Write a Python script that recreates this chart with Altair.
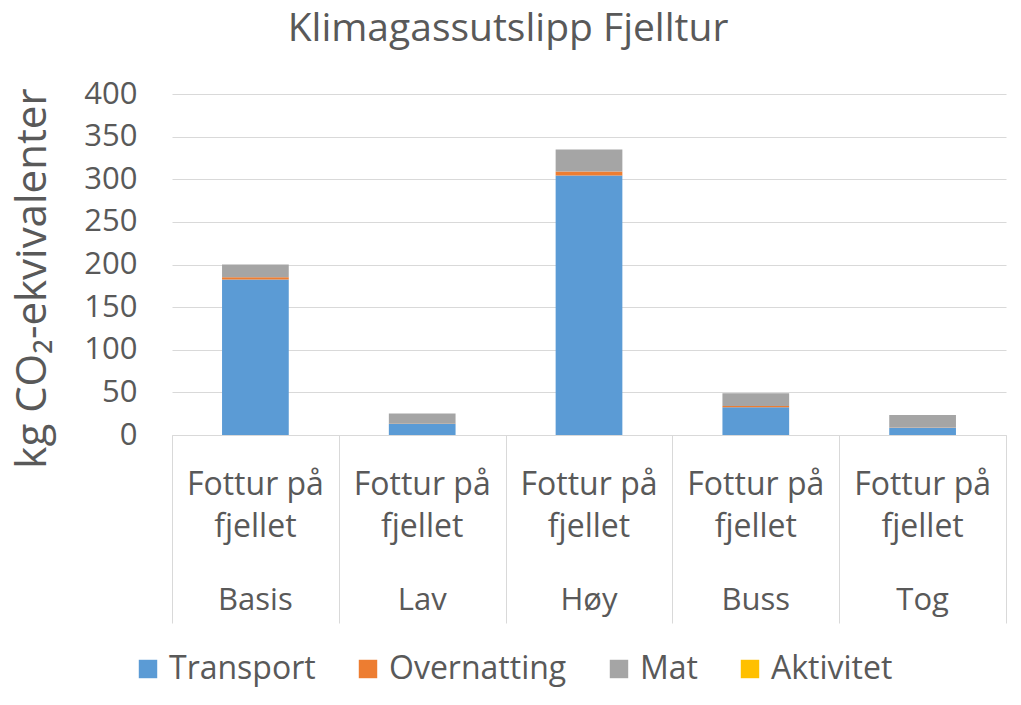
import altair as alt
import pandas as pd

groups = ["Basis", "Lav", "Høy", "Buss", "Tog"]
activity = "Fottur på fjellet"
categories = ["Transport", "Overnatting", "Mat", "Aktivitet"]
colors = ["#5B9BD5", "#ED7D31", "#A5A5A5", "#FFC000"]

transport = [182.5, 13.0, 304.5, 32.5, 8.5]
overnatting = [2.5, 0.3, 4.5, 1.5, 0.3]
mat = [15.0, 12.0, 26.0, 15.0, 14.7]
aktivitet = [0.0, 0.0, 0.0, 0.0, 0.0]

series = [transport, overnatting, mat, aktivitet]
rows = []
for ci, (cat, vals) in enumerate(zip(categories, series)):
    for g, v in zip(groups, vals):
        rows.append({"group": g, "category": cat, "value": v, "order": ci})
df = pd.DataFrame(rows)
labels_df = pd.DataFrame({"group": groups, "activity": [activity] * len(groups)})

W, H = 834, 341
TXT = "#595959"
GRID = "#D9D9D9"
FONT = "Open Sans"

x_enc = alt.X(
    "group:N",
    sort=groups,
    scale=alt.Scale(paddingInner=0, paddingOuter=0),
    axis=alt.Axis(
        title=None, labels=False, tickBand="extent", tickSize=188,
        tickColor=GRID, domainColor=GRID, tickWidth=1, domainWidth=1,
    ),
)

bars = alt.Chart(df).mark_bar(width=alt.RelativeBandSize(0.4)).encode(
    x=x_enc,
    y=alt.Y(
        "sum(value):Q",
        scale=alt.Scale(domain=[0, 400], nice=False),
        axis=alt.Axis(
            title="kg CO₂-ekvivalenter", values=list(range(0, 401, 50)),
            grid=True, gridColor=GRID, domain=False, ticks=False,
            labelPadding=35, labelFontSize=31, labelColor=TXT,
            titleFontSize=42, titleColor=TXT, titleFontWeight="normal",
            titlePadding=29, titleY=184,
        ),
    ),
    color=alt.Color(
        "category:N",
        sort=categories,
        scale=alt.Scale(domain=categories, range=colors),
        legend=alt.Legend(
            title=None, orient="none", direction="horizontal",
            legendX=-40, legendY=559, symbolType="square", symbolSize=340,
            symbolStrokeWidth=0, labelFontSize=32, labelColor=TXT,
            columnPadding=36, labelOffset=5, labelLimit=400,
        ),
    ),
    order=alt.Order("order:Q", sort="ascending"),
)

act_text = alt.Chart(labels_df).mark_text(
    fontSize=32, color=TXT, lineBreak="\n", lineHeight=42, baseline="middle", font=FONT
).encode(
    x=alt.X("group:N", sort=groups),
    y=alt.value(H + 50),
    text=alt.Text("wrapped:N"),
).transform_calculate(wrapped="'Fottur på\\nfjellet'")

grp_text = alt.Chart(labels_df).mark_text(
    fontSize=31, color=TXT, baseline="middle", font=FONT
).encode(
    x=alt.X("group:N", sort=groups),
    y=alt.value(H + 166),
    text="group:N",
)

chart = alt.layer(bars, act_text, grp_text).properties(
    width=W, height=H,
    title=alt.TitleParams("Klimagassutslipp Fjelltur", fontSize=39, color=TXT,
                          fontWeight="normal", anchor="middle", offset=29, dx=-81),
    autosize=alt.AutoSizeParams(type="none"),
    padding={"left": 164, "top": 86, "right": 7, "bottom": 260},
).configure(font=FONT).configure_view(stroke=None)

chart.save("out.html", embed_options={"renderer": "svg", "actions": False})
